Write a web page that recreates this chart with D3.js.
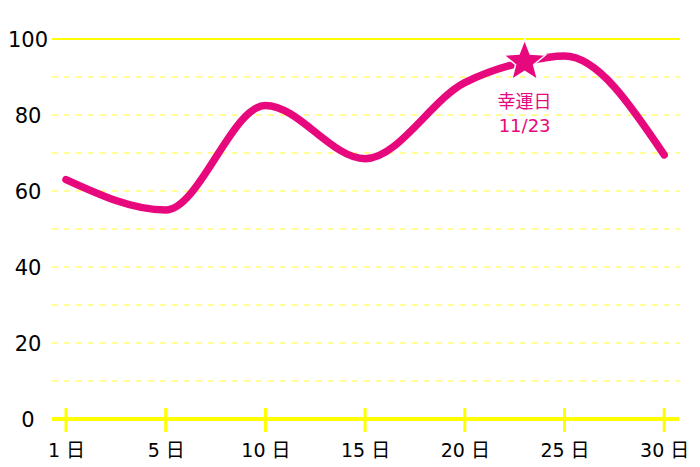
<!DOCTYPE html>
<html><head><meta charset="utf-8">
<script src="https://cdn.jsdelivr.net/npm/d3@7"></script>
<style>body{margin:0;background:#fff}svg{display:block}</style>
</head><body><svg width="700" height="467"></svg>
<script>
const days = [1, 5, 10, 15, 20, 23, 25, 30];
const values = [63, 55, 82.5, 68.5, 88.5, 94, 95.5, 69.5];
const tickDays = [1, 5, 10, 15, 20, 25, 30];
const yTicks = [0, 20, 40, 60, 80, 100];
const gridValues = [10, 20, 30, 40, 50, 60, 70, 80, 90];
const luckyDay = 23;
const luckyLabel = ["幸運日", "11/23"];
const pink = "#e8087e", yellow = "#ffff00", gridYellow = "#ffff70";
const font = "'DejaVu Sans', 'Noto Sans CJK JP', sans-serif";

const svg = d3.select("svg");
const x = d3.scaleLinear().domain(tickDays).range(tickDays.map((d, i) => 66 + i * 99.7));
const y = d3.scaleLinear().domain([0, 100]).range([419, 39]);

// grid
svg.selectAll(".grid").data(gridValues).join("line")
  .attr("x1", 52).attr("x2", 680).attr("y1", d => y(d)).attr("y2", d => y(d))
  .attr("stroke", gridYellow).attr("stroke-width", 1.5).attr("stroke-dasharray", "6,6");
svg.append("line").attr("x1", 52).attr("x2", 680).attr("y1", y(100)).attr("y2", y(100))
  .attr("stroke", yellow).attr("stroke-width", 2);

// y labels
svg.selectAll(".yl").data(yTicks).join("text")
  .attr("x", 28).attr("y", d => y(d) + 8).attr("text-anchor", "middle")
  .attr("font-family", font).attr("font-size", 21).attr("fill", "#000")
  .text(d => d);

// x axis
const xAxis = d3.axisBottom(x).tickValues(tickDays).tickSize(0).tickFormat(d => d + " 日");
const gx = svg.append("g").attr("transform", `translate(0,${y(0)})`).call(xAxis);
gx.select(".domain").remove();
gx.selectAll("text").attr("font-family", font).attr("font-size", 19).attr("fill", "#000")
  .attr("dy", 0).attr("y", 38);
svg.append("line").attr("x1", 52).attr("x2", 679).attr("y1", y(0)).attr("y2", y(0))
  .attr("stroke", yellow).attr("stroke-width", 4);
svg.selectAll(".tk").data(tickDays).join("line")
  .attr("x1", d => x(d)).attr("x2", d => x(d)).attr("y1", y(0) - 11).attr("y2", y(0) + 13)
  .attr("stroke", yellow).attr("stroke-width", 3);

// line
const line = d3.line().x((d, i) => x(days[i])).y(d => y(d)).curve(d3.curveMonotoneX);
svg.append("path").datum(values).attr("d", line).attr("fill", "none")
  .attr("stroke", pink).attr("stroke-width", 7.5).attr("stroke-linecap", "round").attr("stroke-linejoin", "round");

// star
const li = days.indexOf(luckyDay);
const sx = x(luckyDay), sy = y(values[li]);
const starPts = d3.range(10).map(i => [i * Math.PI / 5, i % 2 ? 9.5 : 22]);
svg.append("path").attr("d", d3.lineRadial().curve(d3.curveLinearClosed)(starPts))
  .attr("transform", `translate(${sx},${sy})`).attr("fill", pink)
  .attr("stroke", "#fff").attr("stroke-width", 1.5).attr("stroke-linejoin", "miter");
svg.selectAll(".lbl").data(luckyLabel).join("text")
  .attr("x", sx).attr("y", (d, i) => sy + 46 + i * 24).attr("text-anchor", "middle")
  .attr("font-family", font).attr("font-size", 18).attr("fill", pink).text(d => d);
</script></body></html>
